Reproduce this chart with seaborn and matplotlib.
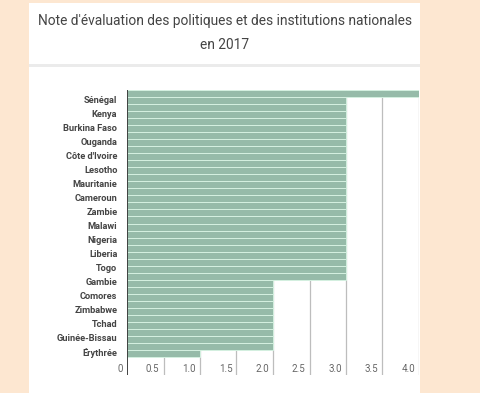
import matplotlib
matplotlib.use("Agg")
import matplotlib.pyplot as plt
import matplotlib.transforms as mtransforms
from matplotlib.patches import Rectangle
import seaborn as sns
import pandas as pd

pays = ["Sénégal", "Kenya", "Burkina Faso", "Ouganda", "Côte d'Ivoire", "Lesotho",
        "Mauritanie", "Cameroun", "Zambie", "Malawi", "Nigeria", "Liberia", "Togo",
        "Gambie", "Comores", "Zimbabwe", "Tchad", "Guinée-Bissau", "Érythrée"]
serie_a = [4.0, 3.0, 3.0, 3.0, 3.0, 3.0, 3.0, 3.0, 3.0, 3.0, 3.0, 3.0, 3.0, 3.0,
           2.0, 2.0, 2.0, 2.0, 2.0]
serie_b = [3.0, 3.0, 3.0, 3.0, 3.0, 3.0, 3.0, 3.0, 3.0, 3.0, 3.0, 3.0, 3.0, 2.0,
           2.0, 2.0, 2.0, 2.0, 1.0]
xticks = [0, 0.5, 1.0, 1.5, 2.0, 2.5, 3.0, 3.5, 4.0]
xticklabels = ["0", "0.5", "1.0", "1.5", "2.0", "2.5", "3.0", "3.5", "4.0"]
titre = "Note d'évaluation des politiques et des institutions nationales"
sous_titre = "en 2017"

df = pd.DataFrame({
    "pays": pays * 2,
    "note": serie_a + serie_b,
    "serie": ["a"] * len(pays) + ["b"] * len(pays),
})

sns.set_theme(style="white")
plt.rcParams["font.family"] = ["Roboto", "DejaVu Sans"]

W, H = 480, 393
fig = plt.figure(figsize=(W / 100, H / 100), dpi=100)
fig.patch.set_facecolor("#fde7d1")

# white cards
fig.add_artist(Rectangle((29 / W, 1 - 64 / H), (420 - 29) / W, (64 - 3) / H,
                         transform=fig.transFigure, facecolor="white", edgecolor="none", zorder=0))
fig.add_artist(Rectangle((29 / W, 0), (420 - 29) / W, 1 - 67 / H,
                         transform=fig.transFigure, facecolor="white", edgecolor="none", zorder=0))
fig.add_artist(Rectangle((29 / W, 1 - 67 / H), (420 - 29) / W, 3 / H,
                         transform=fig.transFigure, facecolor="#ebebeb", edgecolor="none", zorder=0))

fig.text(224.5 / W, 1 - 21 / H, titre, ha="center", va="center", fontsize=9.9, color="#444444")
fig.text(224.5 / W, 1 - 45 / H, sous_titre, ha="center", va="center", fontsize=9.9, color="#444444")

left, right, top, bottom = 127, 419, 90, 375
ax = fig.add_axes([left / W, 1 - bottom / H, (right - left) / W, (bottom - top) / H])
ax.set_facecolor("none")

green = "#90c1a9"
sns.barplot(data=df, y="pays", x="note", hue="serie", orient="h", width=1.0,
            palette=[green, green], legend=False, edgecolor="#d4f0e0", linewidth=0.7,
            ax=ax, zorder=2)

ax.set_xlim(0, 4.0)
ax.set_ylim(19.78, -0.5)
ax.set_xlabel("")
ax.set_ylabel("")
for s in ax.spines.values():
    s.set_visible(False)

ax.set_xticks(xticks)
ax.set_xticklabels(xticklabels)
for x in xticks[1:]:
    ax.axvline(x, color="#bdbdbd", lw=0.9, zorder=1)
ax.axvline(0, color="#333333", lw=1.3, zorder=3)

ax.tick_params(axis="x", length=0, pad=-8, labelsize=7.0, labelcolor="#666666")
off = mtransforms.ScaledTranslation(-4 / 100, 0, fig.dpi_scale_trans)
for lab in ax.get_xticklabels():
    lab.set_ha("right")
    lab.set_transform(lab.get_transform() + off)

ax.tick_params(axis="y", length=0, pad=7, labelsize=6.7, labelcolor="#444444")
yoff = mtransforms.ScaledTranslation(0, -2 / 100, fig.dpi_scale_trans)
for lab in ax.get_yticklabels():
    lab.set_fontweight("bold")
    lab.set_transform(lab.get_transform() + yoff)

fig.savefig("out.png", dpi=100, facecolor=fig.get_facecolor())
